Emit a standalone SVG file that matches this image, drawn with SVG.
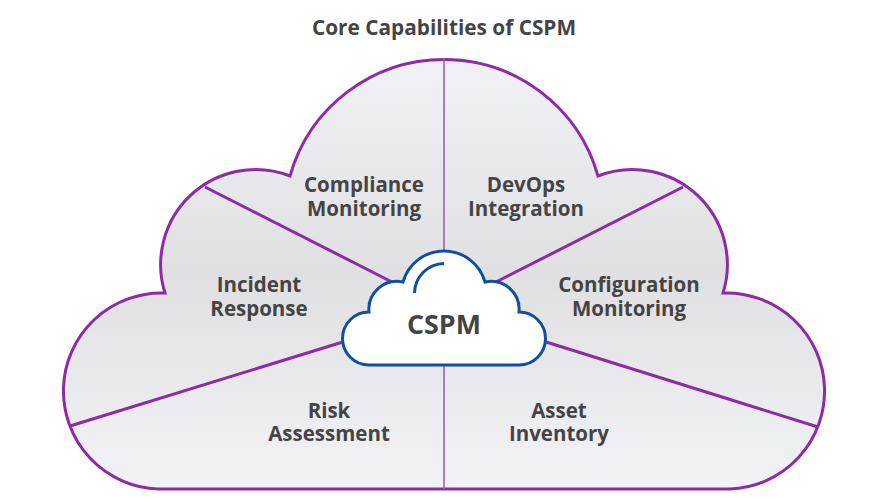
<svg xmlns="http://www.w3.org/2000/svg" width="887" height="499" viewBox="0 0 887 499">
<style>
text{font-family:"Open Sans","Liberation Sans",sans-serif;font-weight:700;fill:#444445;text-anchor:middle;font-size:20.5px}
.title{font-size:20.8px}
.core{font-size:26.8px}
.spoke{stroke:#8e2aa6;stroke-width:3;fill:none}
.axis{stroke:#a55cbb;stroke-width:1.6;fill:none}
</style>
<defs>
<linearGradient id="g" x1="0" y1="58" x2="0" y2="489" gradientUnits="userSpaceOnUse">
<stop offset="0" stop-color="#f1f2f7"/>
<stop offset="0.5" stop-color="#e0e0e2"/>
<stop offset="1" stop-color="#f2f3f8"/>
</linearGradient>
</defs>
<rect width="887" height="499" fill="#fff"/>
<text class="title" x="444" y="35">Core Capabilities of CSPM</text>
<g id="outer-cloud">
<path d="M158 489A98 98 0 0 1 165 293A95 95 0 0 1 290 176A160 160 0 0 1 598 176A95 95 0 0 1 723 293A98 98 0 0 1 730 489Z" fill="url(#g)" stroke="#8e2aa6" stroke-width="3"/>
</g>
<g id="connectors">
<path class="axis" d="M444 58V252M444 364V489"/>
<path class="spoke" d="M205 187L392 282M683 187L496 282M70 426L346 341M818 427L543 341"/>
</g>
<g id="cspm">
<path d="M369 365A26.5 26.5 0 0 1 369 312A28 28 0 0 1 403 282A42.6 42.6 0 0 1 485 282A28 28 0 0 1 519 312A26.5 26.5 0 0 1 519 365Z" fill="#fff" stroke="#0e4fa0" stroke-width="3"/>
<path d="M414.5 293A30 30 0 0 1 444 263.5" fill="none" stroke="#0e4fa0" stroke-width="3"/>
<text class="core" x="444" y="334">CSPM</text>
</g>
<g id="compliance"><text x="364" y="192">Compliance</text><text x="364" y="216">Monitoring</text></g>
<g id="devops"><text x="526" y="192">DevOps</text><text x="526" y="216">Integration</text></g>
<g id="incident"><text x="259" y="292">Incident</text><text x="259" y="316">Response</text></g>
<g id="configuration"><text x="629" y="292">Configuration</text><text x="629" y="316">Monitoring</text></g>
<g id="risk"><text x="329" y="418">Risk</text><text x="329" y="441">Assessment</text></g>
<g id="asset"><text x="559" y="418">Asset</text><text x="559" y="441">Inventory</text></g>
</svg>
